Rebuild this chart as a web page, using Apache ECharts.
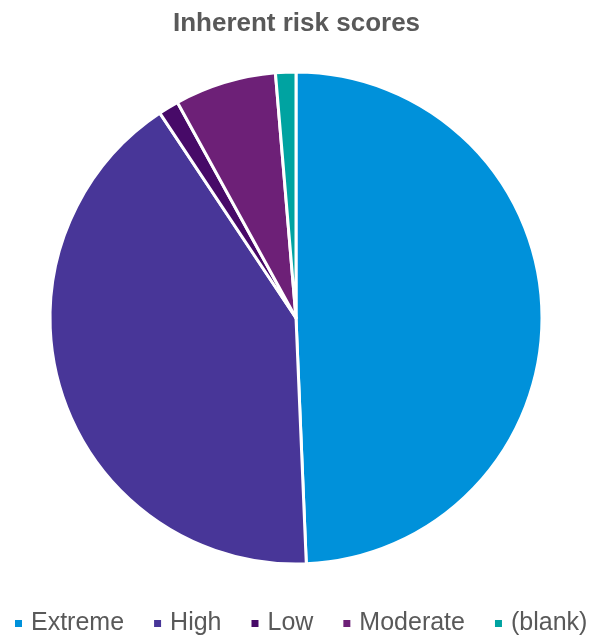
<!DOCTYPE html>
<html>
<head>
<meta charset="utf-8">
<script src="https://cdn.jsdelivr.net/npm/echarts@6/dist/echarts.min.js"></script>
<style>
  html, body { margin: 0; padding: 0; background: #fff; }
  #chart { width: 593px; height: 637px; }
</style>
</head>
<body>
<div id="chart"></div>
<script>
// Risk rating categories and the number of items in each
const categories = ['Extreme', 'High', 'Low', 'Moderate', '(blank)'];
const counts = [37, 31, 1, 5, 1];
const colors = ['#0091DA', '#483698', '#470A68', '#6D2077', '#00A3A1'];

const chart = echarts.init(document.getElementById('chart'), null, { renderer: 'canvas' });
chart.setOption({
  animation: false,
  color: colors,
  title: {
    text: 'Inherent risk scores',
    left: 'center',
    top: 6,
    textStyle: { fontFamily: 'Liberation Sans', fontSize: 26, fontWeight: 'bold', color: '#595959' }
  },
  legend: {
    data: categories,
    top: 611,
    left: 13,
    width: 590,
    padding: 0,
    itemWidth: 9,
    itemHeight: 9,
    itemGap: 28,
    icon: 'rect',
    textStyle: { fontFamily: 'Liberation Sans', fontSize: 25, color: '#595959', padding: [0, 0, 0, 3] }
  },
  series: [{
    type: 'pie',
    center: [296, 318],
    radius: [0, 246],
    startAngle: 90,
    clockwise: true,
    label: { show: false },
    labelLine: { show: false },
    itemStyle: { borderColor: '#ffffff', borderWidth: 3 },
    emphasis: { disabled: true },
    data: categories.map((name, i) => ({ name, value: counts[i] }))
  }]
});
</script>
</body>
</html>
